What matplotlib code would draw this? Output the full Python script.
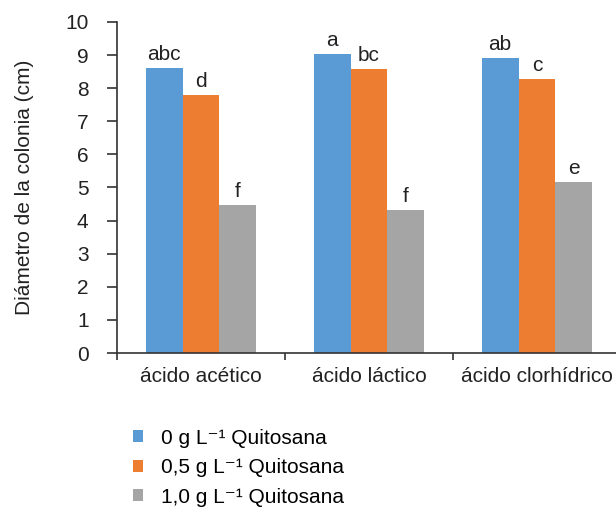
import matplotlib
matplotlib.use("Agg")
from matplotlib import pyplot as plt
import numpy as np

plt.rcParams['font.family'] = ['Liberation Sans', 'DejaVu Sans']

# data
acids = ["ácido acético", "ácido láctico", "ácido clorhídrico"]
series_names = ["0 g L⁻¹ Quitosana", "0,5 g L⁻¹ Quitosana", "1,0 g L⁻¹ Quitosana"]
chit_0 = [8.62, 9.04, 8.91]
chit_05 = [7.79, 8.57, 8.27]
chit_10 = [4.46, 4.31, 5.17]
letters_0 = ["abc", "a", "ab"]
letters_05 = ["d", "bc", "c"]
letters_10 = ["f", "f", "e"]

colors = ["#5B9BD5", "#ED7D31", "#A5A5A5"]
series = [chit_0, chit_05, chit_10]
letters = [letters_0, letters_05, letters_10]

fs = 15

fig = plt.figure(figsize=(6.16, 5.11), dpi=100)
ax = fig.add_axes([117/616, 158/511, 504/616, 331/511])

x = np.arange(len(acids))
w = 0.22
handles = []
for i, (vals, labs) in enumerate(zip(series, letters)):
    pos = x + (i - 1) * w
    b = ax.bar(pos, vals, width=w, color=colors[i], label=series_names[i])
    handles.append(b)
    for px, v, t in zip(pos, vals, labs):
        ax.annotate(t, (px, v), xytext=(0, 3), textcoords="offset points",
                    ha="center", va="bottom", fontsize=fs, color="#222222")

ax.set_xlim(-0.5, 2.5)
ax.set_ylim(0, 10)
ax.set_yticks(range(0, 11))
ax.set_xticks(x)
ax.set_xticklabels(acids)
ax.set_xticks([-0.5, 0.5, 1.5, 2.5], minor=True)
ax.tick_params(axis="x", which="major", length=0, pad=10, labelsize=fs, colors="#222222")
ax.tick_params(axis="x", which="minor", length=5, width=1.2, color="#333333")
ax.tick_params(axis="y", length=7.5, width=1.2, color="#333333", labelsize=fs,
               labelcolor="#222222", pad=13)
for s in ["top", "right"]:
    ax.spines[s].set_visible(False)
for s in ["left", "bottom"]:
    ax.spines[s].set_linewidth(1.2)
    ax.spines[s].set_color("#333333")
ax.set_ylabel("Diámetro de la colonia (cm)", fontsize=fs, color="#222222")
ax.yaxis.set_label_coords(-0.165, 0.5)

fig.legend(handles=handles, labels=series_names, loc="upper left",
           bbox_to_anchor=(114/616, 1 - 410/511), frameon=False, fontsize=fs,
           handlelength=0.5, handleheight=0.5, handletextpad=0.85, labelspacing=0.5)

fig.savefig("out.png", dpi=100)
